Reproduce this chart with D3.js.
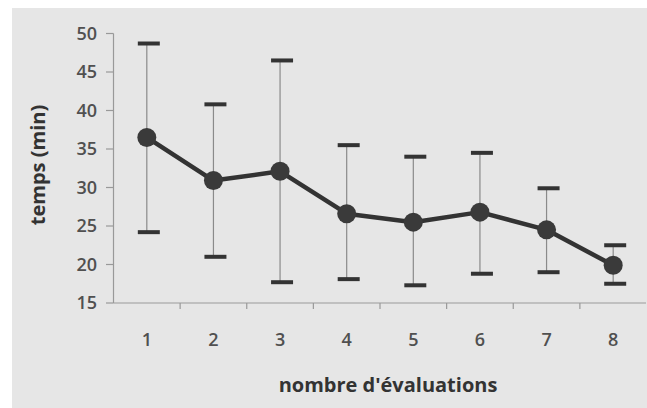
<!DOCTYPE html>
<html><head><meta charset="utf-8">
<script src="https://cdn.jsdelivr.net/npm/d3@7"></script>
<style>
html,body{margin:0;padding:0;background:#fff;}
text{font-family:"Open Sans",sans-serif;}
</style></head>
<body>
<svg id="c" width="647" height="408"></svg>
<script>
const categories = ["1","2","3","4","5","6","7","8"];
const means = [36.5, 30.9, 32.1, 26.6, 25.5, 26.8, 24.5, 19.9];
const upper = [48.7, 40.8, 46.5, 35.5, 34.0, 34.5, 29.9, 22.5];
const lower = [24.2, 21.0, 17.7, 18.1, 17.3, 18.8, 19.0, 17.5];
const yTicks = [15, 20, 25, 30, 35, 40, 45, 50];

const svg = d3.select("#c");
svg.append("rect").attr("x",12).attr("y",8).attr("width",635).attr("height",400).attr("fill","#e6e6e6");

const x = d3.scaleBand().domain(categories).range([113.5, 646.5]);
const y = d3.scaleLinear().domain([15, 50]).range([303, 33.5]);
const cx = d => x(d) + x.bandwidth()/2;

// axes
const axisCol = "#999";
svg.append("line").attr("x1",113.5).attr("x2",113.5).attr("y1",y(50)).attr("y2",y(15)).attr("stroke",axisCol).attr("stroke-width",1.2);
svg.append("line").attr("x1",113.5).attr("x2",646).attr("y1",y(15)).attr("y2",y(15)).attr("stroke",axisCol).attr("stroke-width",1.2);
svg.selectAll(".yt").data(yTicks).enter().append("line")
  .attr("x1",106).attr("x2",113.5).attr("y1",d=>y(d)).attr("y2",d=>y(d)).attr("stroke",axisCol).attr("stroke-width",1.2);
svg.selectAll(".yl").data(yTicks).enter().append("text")
  .attr("x",97).attr("y",d=>y(d)).attr("dy","0.36em").attr("text-anchor","end")
  .attr("font-size",18).attr("font-weight",600).attr("fill","#505050").text(d=>d);
svg.selectAll(".xt").data(categories.slice(1)).enter().append("line")
  .attr("x1",d=>x(d)).attr("x2",d=>x(d)).attr("y1",y(15)).attr("y2",y(15)+6).attr("stroke",axisCol).attr("stroke-width",1.2);
svg.selectAll(".xl").data(categories).enter().append("text")
  .attr("x",d=>cx(d)).attr("y",346).attr("text-anchor","middle")
  .attr("font-size",18).attr("font-weight",600).attr("fill","#505050").text(d=>d);

svg.append("text").attr("x",388).attr("y",392).attr("text-anchor","middle")
  .attr("font-size",20).attr("font-weight",700).attr("fill","#333").text("nombre d'évaluations");
svg.append("text").attr("transform","translate(45,165) rotate(-90)").attr("text-anchor","middle")
  .attr("font-size",20).attr("font-weight",700).attr("fill","#333").text("temps (min)");

// error bars
const data = categories.map((c,i)=>({c, m:means[i], u:upper[i], l:lower[i]}));
svg.selectAll(".eb").data(data).enter().append("line")
  .attr("x1",d=>cx(d.c)).attr("x2",d=>cx(d.c)).attr("y1",d=>y(d.u)).attr("y2",d=>y(d.l))
  .attr("stroke","#8a8a8a").attr("stroke-width",1.2);
["u","l"].forEach(k=>{
  svg.selectAll(".cap"+k).data(data).enter().append("line")
    .attr("x1",d=>cx(d.c)-9).attr("x2",d=>cx(d.c)+13).attr("y1",d=>y(d[k])).attr("y2",d=>y(d[k]))
    .attr("stroke","#333").attr("stroke-width",4);
});

// line + markers
svg.append("path").datum(data)
  .attr("d", d3.line().x(d=>cx(d.c)).y(d=>y(d.m)))
  .attr("fill","none").attr("stroke","#333").attr("stroke-width",4.5).attr("stroke-linejoin","round");
svg.selectAll(".pt").data(data).enter().append("circle")
  .attr("cx",d=>cx(d.c)).attr("cy",d=>y(d.m)).attr("r",9.5).attr("fill","#3a3a3a");
</script>
</body></html>
